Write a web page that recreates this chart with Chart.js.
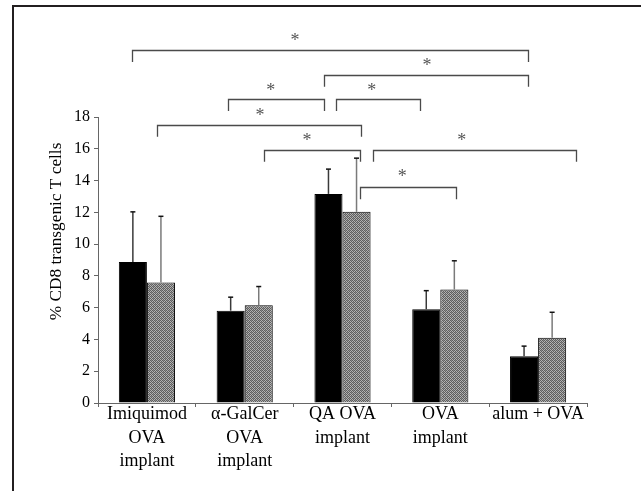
<!DOCTYPE html>
<html>
<head>
<meta charset="utf-8">
<script src="https://cdn.jsdelivr.net/npm/chart.js@4"></script>
<style>
html,body{margin:0;padding:0;background:#fff;}
canvas{display:block;}
</style>
</head>
<body>
<canvas id="c" width="641" height="491"></canvas>
<script>
// ---- data ----
const categories = [["Imiquimod","OVA","implant"],["\u03B1-GalCer","OVA","implant"],["QA OVA","implant"],["OVA","implant"],["alum + OVA"]];
const blackValues = [8.87, 5.81, 13.16, 5.90, 2.95];
const blackErrors = [3.16, 0.85, 1.56, 1.17, 0.63];
const grayValues = [7.58, 6.15, 12.03, 7.14, 4.11];
const grayErrors = [4.17, 1.18, 3.38, 1.81, 1.60];
const yTitle = "% CD8 transgenic T cells";
const yMin = 0, yMax = 18, yStep = 2;

// significance brackets (x in category index units, y in data units)
const bracketStart = [-0.149, 1.811, 0.832, 1.934, 0.100, 1.200, 2.309, 2.179];
const bracketEnd   = [ 3.900, 3.900, 1.811, 2.796, 2.186, 2.179, 4.384, 3.161];
const bracketLevel = [22.22, 20.66, 19.11, 19.11, 17.51, 15.92, 15.92, 13.61];
const bracketFoot  = [21.46, 19.91, 18.38, 18.38, 16.76, 15.19, 15.19, 12.82];
const starPos      = [1.514, 2.864, 1.266, 2.299, 1.156, 1.637, 3.219, 2.611];
const starLevel    = [23.03, 21.46, 19.91, 19.91, 18.33, 16.76, 16.76, 14.46];
const starLabel = "*";

// ---- pattern for gray bars ----
function makePattern(){
  const p = document.createElement('canvas');
  p.width = 4; p.height = 4;
  const g = p.getContext('2d');
  const dark = '#5e5e5e', light = '#b4b4b4';
  for (let y = 0; y < 4; y++) for (let x = 0; x < 4; x++) {
    g.fillStyle = ((x + y) % 2 === 0) ? dark : light;
    if ((x === 1 && y === 2) || (x === 3 && y === 0)) g.fillStyle = '#8c8c8c';
    g.fillRect(x, y, 1, 1);
  }
  return g.createPattern(p, 'repeat');
}
const ctx = document.getElementById('c').getContext('2d');
const grayFill = makePattern();

const serif = "'Liberation Serif', 'Times New Roman', serif";

const errorBarPlugin = {
  id: 'errorBars',
  afterDatasetsDraw(chart) {
    const c = chart.ctx, ys = chart.scales.y;
    const errs = [blackErrors, grayErrors];
    const colors = ['#3a3a3a', '#7a7a7a'];
    chart.data.datasets.forEach((ds, di) => {
      const meta = chart.getDatasetMeta(di);
      meta.data.forEach((bar, i) => {
        const top = ys.getPixelForValue(ds.data[i] + errs[di][i]);
        c.save();
        c.strokeStyle = colors[di];
        c.lineWidth = 1.5;
        c.beginPath();
        c.moveTo(bar.x, bar.y);
        c.lineTo(bar.x, top);
        c.stroke();
        c.strokeStyle = '#111';
        c.lineWidth = 1.5;
        c.beginPath();
        c.moveTo(bar.x - 2.5, top);
        c.lineTo(bar.x + 2.5, top);
        c.stroke();
        c.restore();
      });
    });
  }
};

const bracketPlugin = {
  id: 'brackets',
  afterDraw(chart) {
    const c = chart.ctx, xs = chart.scales.x, ys = chart.scales.y;
    const step = (xs.right - xs.left) / categories.length;
    const xp = v => xs.left + (v + 0.5) * step;
    c.save();
    c.strokeStyle = '#4a4a4a';
    c.lineWidth = 1.3;
    for (let i = 0; i < bracketStart.length; i++) {
      const x1 = Math.round(xp(bracketStart[i])) + 0.5, x2 = Math.round(xp(bracketEnd[i])) + 0.5;
      const yl = Math.round(ys.getPixelForValue(bracketLevel[i])) + 0.5;
      const yf = ys.getPixelForValue(bracketFoot[i]);
      c.beginPath();
      c.moveTo(x1, yf); c.lineTo(x1, yl); c.lineTo(x2, yl); c.lineTo(x2, yf);
      c.stroke();
      c.fillStyle = '#555';
      c.font = '18px ' + serif;
      c.textAlign = 'center';
      c.textBaseline = 'alphabetic';
      c.fillText(starLabel, xp(starPos[i]), ys.getPixelForValue(starLevel[i]) + 9);
    }
    c.restore();
    // y axis title
    c.save();
    c.translate(56, ys.getPixelForValue(10.8));
    c.rotate(-Math.PI / 2);
    c.fillStyle = '#000';
    c.font = '17.3px ' + serif;
    c.textAlign = 'center';
    c.textBaseline = 'middle';
    c.fillText(yTitle, 0, 0);
    c.restore();
    // frame
    c.save();
    c.strokeStyle = '#231f20';
    c.lineWidth = 2;
    c.beginPath();
    c.moveTo(13, chart.height);
    c.lineTo(13, 6);
    c.lineTo(chart.width, 6);
    c.stroke();
    c.restore();
  }
};

new Chart(ctx, {
  type: 'bar',
  data: {
    labels: categories,
    datasets: [
      { data: blackValues, backgroundColor: '#000', borderColor: '#000', borderWidth: 1 },
      { data: grayValues, backgroundColor: grayFill, borderColor: '#000', borderWidth: 1 }
    ]
  },
  options: {
    responsive: false,
    animation: false,
    devicePixelRatio: 1,
    layout: { padding: { top: 117, left: 0, right: 54, bottom: 0 } },
    datasets: { bar: { categoryPercentage: 0.574, barPercentage: 1.0 } },
    plugins: { legend: { display: false }, tooltip: { enabled: false } },
    scales: {
      x: {
        offset: true,
        grid: { offset: true, drawOnChartArea: false, drawTicks: true, tickLength: 4, color: '#666' },
        border: { display: true, color: '#666', width: 1 },
        ticks: { color: '#000', padding: -4, maxRotation: 0, autoSkip: false,
                 font: { family: serif, size: 18, lineHeight: 1.3 } },
        afterFit(s) { s.height = 88; }
      },
      y: {
        min: yMin, max: yMax,
        grid: { drawOnChartArea: false, tickLength: 4, color: '#666' },
        border: { display: true, color: '#666', width: 1 },
        ticks: { stepSize: yStep, color: '#000', padding: 4, font: { family: serif, size: 16 } },
        afterFit(s) { s.width = 98; }
      }
    }
  },
  plugins: [errorBarPlugin, bracketPlugin]
});
</script>
</body>
</html>
